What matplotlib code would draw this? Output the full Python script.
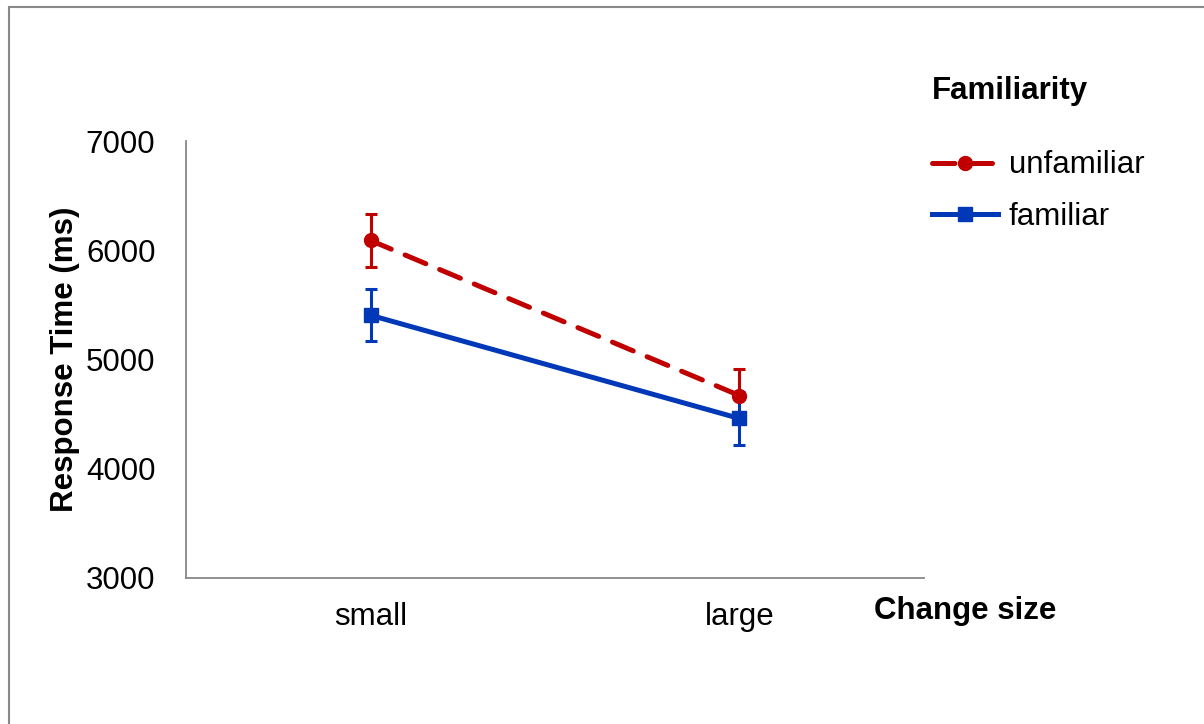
import matplotlib
matplotlib.use("Agg")
import matplotlib.pyplot as plt
from matplotlib.patches import Rectangle

plt.rcParams['font.family'] = ['Liberation Sans', 'DejaVu Sans']

# mean response times with error bars
change_sizes = ["small", "large"]
unfamiliar_rt = [6090, 4670]
unfamiliar_err = [245, 240]
familiar_rt = [5405, 4460]
familiar_err = [240, 245]

red = "#C00000"
blue = "#0038B8"
fs = 22.5

fig = plt.figure(figsize=(12.04, 7.24), dpi=100)
ax = fig.add_axes([0.1545, 0.2017, 0.6129, 0.6035])

x = range(len(change_sizes))

ax.errorbar(x, unfamiliar_rt, yerr=unfamiliar_err, color=red, lw=3.6,
            ls=(0, (4.5, 3.0)), dash_capstyle='round', marker='o', ms=10,
            elinewidth=2.2, capsize=4.3, capthick=2.2, label="unfamiliar")
ax.errorbar(x, familiar_rt, yerr=familiar_err, color=blue, lw=3.6,
            marker='s', ms=10, elinewidth=2.2, capsize=4.3, capthick=2.2,
            label="familiar")

ax.set_xlim(-0.5, 1.5)
ax.set_ylim(3000, 7000)
ax.set_yticks([3000, 4000, 5000, 6000, 7000])
ax.set_xticks(list(x))
ax.set_xticklabels(change_sizes)
ax.tick_params(length=0, labelsize=fs, colors='black')
ax.tick_params(axis='y', pad=22)
ax.tick_params(axis='x', pad=17)

for s in ['top', 'right']:
    ax.spines[s].set_visible(False)
for s in ['left', 'bottom']:
    ax.spines[s].set_color('#888888')
    ax.spines[s].set_linewidth(1.3)

ax.set_ylabel("Response Time (ms)", fontsize=fs, fontweight='bold', labelpad=4)
fig.text(0.726, 0.156, "Change size", fontsize=fs, fontweight='bold',
         va='center', ha='left')

handles, labels = ax.get_legend_handles_labels()
handles = [h[0] for h in handles]
leg = fig.legend(handles, labels, loc='upper left', bbox_to_anchor=(0.7614, 0.9166),
                 frameon=False, fontsize=fs, title="Familiarity",
                 title_fontproperties={'weight': 'bold', 'size': fs},
                 alignment='left', handlelength=2.1, handletextpad=0.35,
                 labelspacing=0.68, borderpad=0)
leg._legend_box.sep = 32

# outer chart border
fig.patches.append(Rectangle((0.0072, -0.1), 1.1, 1.091, transform=fig.transFigure,
                             fill=False, edgecolor='#888888', lw=1.5))

fig.savefig("out.png", dpi=100)
